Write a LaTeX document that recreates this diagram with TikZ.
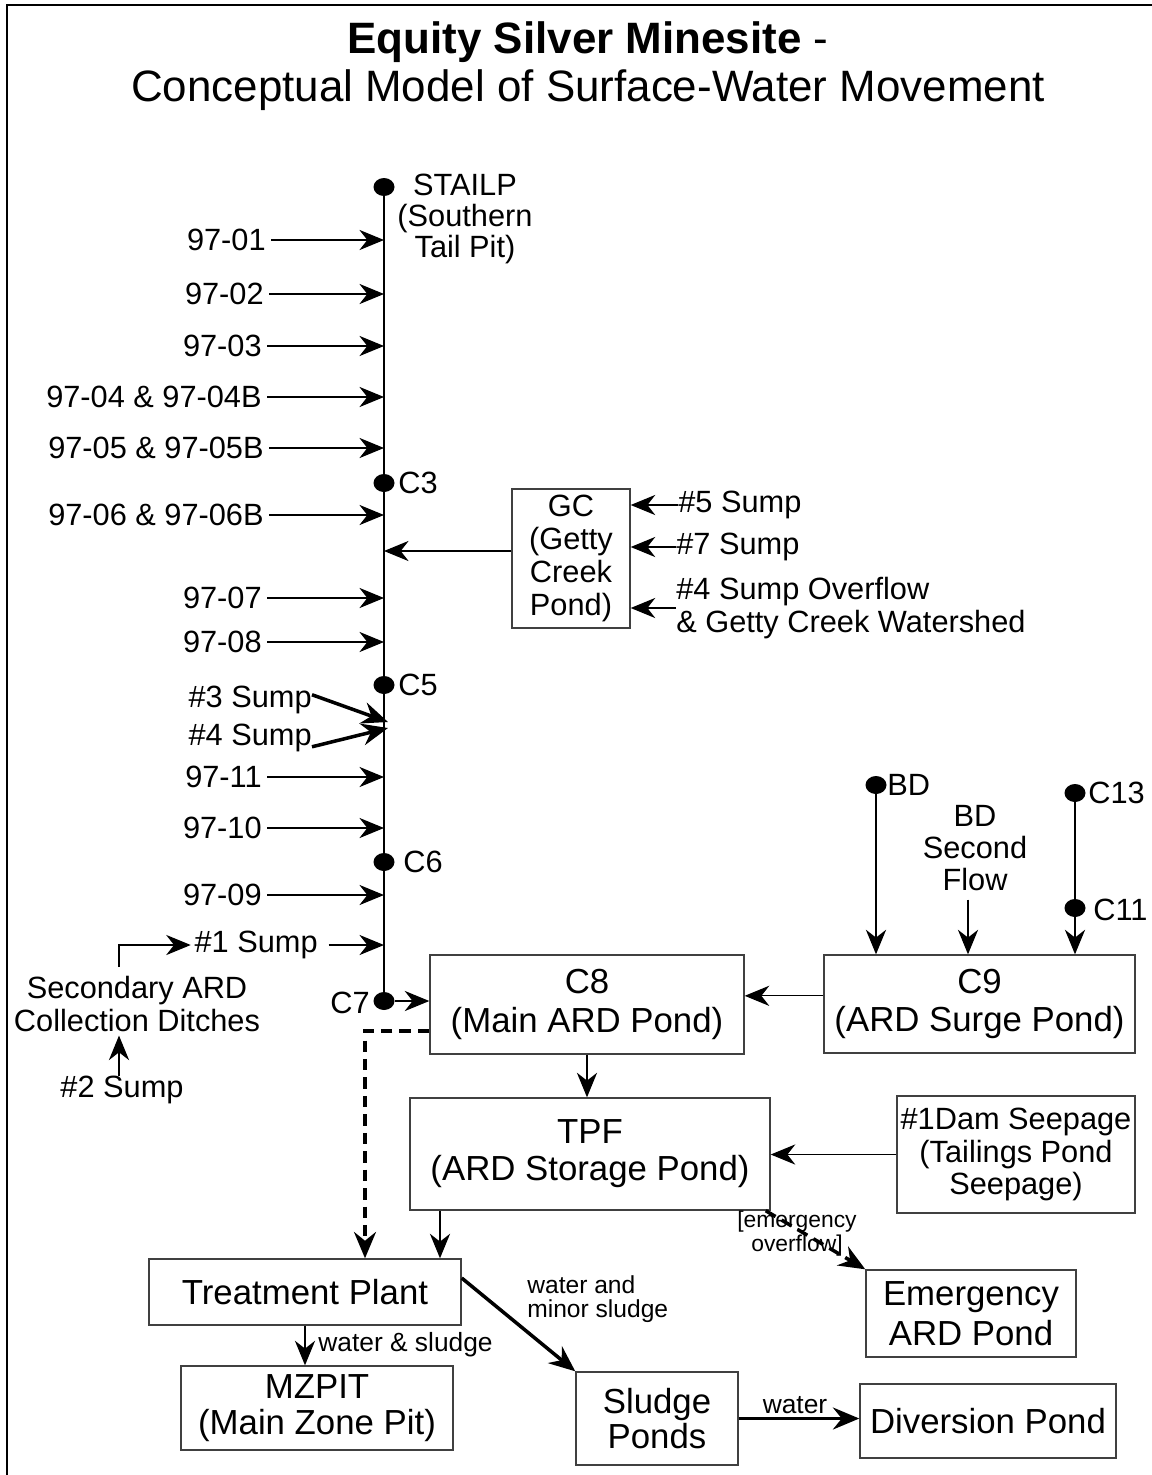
\documentclass[tikz,border=0pt]{standalone}
\usepackage{fontspec}
\setmainfont{Liberation Sans}
\usetikzlibrary{arrows.meta,calc,shapes.geometric}
\begin{document}
\begin{tikzpicture}[x=0.02cm,y=-0.02cm,
  arr/.style={-{Stealth[length=14pt,width=11.5pt,inset=4.5pt]}, line width=0.65pt},
  thk/.style={-{Stealth[length=15pt,width=12.5pt,inset=5pt]}, line width=2pt},
  dsh/.style={-{Stealth[length=15pt,width=12.5pt,inset=5pt]}, line width=2pt, dash pattern=on 6.5pt off 4pt},
  box/.style={draw=black!75, line width=0.8pt, inner sep=0pt, align=center, font=\fontsize{19.8}{22}\selectfont},
  lbl/.style={inner sep=0pt, font=\fontsize{17.5}{18.7}\selectfont},
  elbl/.style={inner sep=0pt, font=\fontsize{15}{16}\selectfont},
  dot/.style={ellipse, fill=black, inner sep=0pt, minimum width=21*0.02cm, minimum height=18*0.02cm}]
\useasboundingbox (0,0) rectangle (1152,1475);
% frame
\draw[line width=1.1pt] (7,1490) -- (7,5) -- (1170,5);
% title
\node[font=\fontsize{25}{28}\selectfont, inner sep=0pt] (t1) at (588,42) {\textbf{Equity Silver Minesite} -};
\node[font=\fontsize{25}{28}\selectfont, inner sep=0pt] (t2) at (588,90) {Conceptual Model of Surface-Water Movement};
% main line dots
\node[dot] (sta) at (384,187) {};
\node[lbl, align=center, font=\fontsize{17.5}{17.6}\selectfont] (statxt) at (465,219) {STAILP\\(Southern\\Tail Pit)};
\node[dot] (c3) at (384,483) {};
\node[lbl, anchor=west] (c3t) at (398,483) {C3};
\node[dot] (c5) at (384,685) {};
\node[lbl, anchor=west] (c5t) at (398,685) {C5};
\node[dot] (c6) at (384,862) {};
\node[lbl, anchor=west] (c6t) at (403,862) {C6};
\node[dot] (c7) at (384,1001) {};
\node[lbl, anchor=east] (c7t) at (370,1003) {C7};
\draw[line width=0.65pt] (sta) -- (c7);
% left inputs
\node[lbl, anchor=east] (l1) at (266,240) {97-01};
\node[lbl, anchor=east] (l2) at (264,294) {97-02};
\node[lbl, anchor=east] (l3) at (262,346) {97-03};
\node[lbl, anchor=east] (l4) at (262,397) {97-04 \& 97-04B};
\node[lbl, anchor=east] (l5) at (264,448) {97-05 \& 97-05B};
\node[lbl, anchor=east] (l6) at (264,515) {97-06 \& 97-06B};
\node[lbl, anchor=east] (l7) at (262,598) {97-07};
\node[lbl, anchor=east] (l8) at (262,642) {97-08};
\node[lbl, anchor=east] (l11) at (262,777) {97-11};
\node[lbl, anchor=east] (l10) at (262,828) {97-10};
\node[lbl, anchor=east] (l9) at (262,895) {97-09};
\foreach \n in {l1,l2,l3,l4,l5,l6,l7,l8,l11,l10,l9}
  \draw[arr] ([xshift=3pt]\n.east) -- (\n.east -| sta);
\node[lbl, anchor=east] (s3) at (312,700) {\#3 Sump};
\node[lbl, anchor=east] (s4) at (312,738) {\#4 Sump};
\coordinate (j3) at (388,722);
\coordinate (j4) at (388,728);
\draw[thk] ([yshift=3pt]s3.east) -- (j3);
\draw[thk] ([yshift=-5pt]s4.east) -- (j4);
\node[lbl, anchor=east] (s1) at (318,945) {\#1 Sump};
\draw[arr] ([xshift=6pt]s1.east) -- (s1.east -| sta);
\node[lbl, align=center] (sec) at (137,1004) {Secondary ARD\\Collection Ditches};
\coordinate (secup) at (119,967);
\draw[arr] (secup) |- ([xshift=-2pt]s1.west);
\node[lbl] (s2) at (122,1090) {\#2 Sump};
\draw[arr] (s2.north -| secup) -- ([yshift=-2pt]sec.south -| secup);
% GC pond
\node[box, minimum width=118*0.02cm, minimum height=139*0.02cm, font=\fontsize{17.5}{18.7}\selectfont] (gc) at (571,558.5) {GC\\(Getty\\Creek\\Pond)};
\coordinate (gcj) at (384,551);
\draw[arr] (gcj -| gc.west) -- (gcj);
\node[lbl, anchor=west] (s5) at (678,505) {\#5 Sump};
\node[lbl, anchor=west] (s7) at (676,547) {\#7 Sump};
\node[lbl, anchor=west, align=left] (s4o) at (676,608) {\#4 Sump Overflow\\\& Getty Creek Watershed};
\draw[arr] (s5.west) -- (s5.west -| gc.east);
\draw[arr] (s7.west) -- (s7.west -| gc.east);
\draw[arr] (s4o.west) -- (s4o.west -| gc.east);
% boxes
\node[box, minimum width=314*0.02cm, minimum height=99*0.02cm] (c8) at (587,1004.5) {C8\\(Main ARD Pond)};
\node[box, minimum width=311*0.02cm, minimum height=98*0.02cm] (c9) at (979.5,1004) {C9\\(ARD Surge Pond)};
\node[box, minimum width=360*0.02cm, minimum height=112*0.02cm, font=\fontsize{19.8}{21}\selectfont] (tpf) at (590,1154) {TPF\\(ARD Storage Pond)};
\node[box, minimum width=238*0.02cm, minimum height=117*0.02cm, font=\fontsize{17.5}{18.7}\selectfont] (dam) at (1016,1154.5) {\#1Dam Seepage\\(Tailings Pond\\Seepage)};
\node[box, minimum width=312*0.02cm, minimum height=66*0.02cm] (tp) at (305,1292) {Treatment Plant};
\node[box, minimum width=210*0.02cm, minimum height=87*0.02cm, font=\fontsize{19.8}{23}\selectfont] (em) at (971,1313.5) {Emergency\\ARD Pond};
\node[box, minimum width=272*0.02cm, minimum height=84*0.02cm, font=\fontsize{19.8}{20.5}\selectfont] (mz) at (317,1408) {MZPIT\\(Main Zone Pit)};
\node[box, minimum width=162*0.02cm, minimum height=93*0.02cm, font=\fontsize{19.8}{20}\selectfont] (sl) at (657,1418.5) {Sludge\\Ponds};
\node[box, minimum width=256*0.02cm, minimum height=74*0.02cm] (dv) at (988,1421) {Diversion Pond};
% right-hand inflows
\node[dot] (bd) at (876,785) {};
\node[lbl, anchor=west] (bdt) at (887,785) {BD};
\node[lbl, align=center, font=\fontsize{17.5}{18}\selectfont] (bdsf) at (975,848) {BD\\Second\\Flow};
\node[dot] (c13) at (1075,793) {};
\node[lbl, anchor=west] (c13t) at (1088,793) {C13};
\node[dot] (c11) at (1075,908) {};
\node[lbl, anchor=west] (c11t) at (1093,910) {C11};
\draw[arr] (bd) -- (bd |- c9.north);
\draw[arr] ([xshift=-7*0.02cm,yshift=-5pt]bdsf.south) -- ([xshift=-7*0.02cm]bdsf.south |- c9.north);
\draw[line width=0.65pt] (c13) -- (c11);
\draw[arr] (c11) -- (c11 |- c9.north);
% connections
\draw[arr] (c7) -- (c7 -| c8.west);
\draw[arr] (c9.177) -- (c9.177 -| c8.east);
\draw[arr] (c8.south) -- (c8.south |- tpf.north);
\draw[arr] (dam.west) -- (dam.west -| tpf.east);
\coordinate (dj) at (365,1031);
\draw[dsh] (dj -| c8.west) -- (dj) -- (dj |- tp.north);
\coordinate (tj) at (440,1259);
\draw[arr] (tj |- tpf.south) -- (tj |- tp.north);
\draw[dsh] ([xshift=-5*0.02cm]tpf.south east) -- (em.north west);
\node[inner sep=0pt, align=center, font=\fontsize{13}{13.6}\selectfont] (eo) at (797,1234) {[emergency\\overflow]};
\draw[arr] (tp.south) -- (tp.south |- mz.north);
\node[elbl, anchor=west] (ws) at (318,1345) {water \& sludge};
\draw[thk] ([yshift=14*0.02cm]tp.east) -- (sl.north west);
\node[inner sep=0pt, anchor=west, align=left, font=\fontsize{14}{13.6}\selectfont] (wm) at (527,1299) {water and\\minor sludge};
\draw[thk] (sl.east) -- (sl.east -| dv.west);
\node[elbl] (wt) at (795,1405) {water};
\end{tikzpicture}
\end{document}
